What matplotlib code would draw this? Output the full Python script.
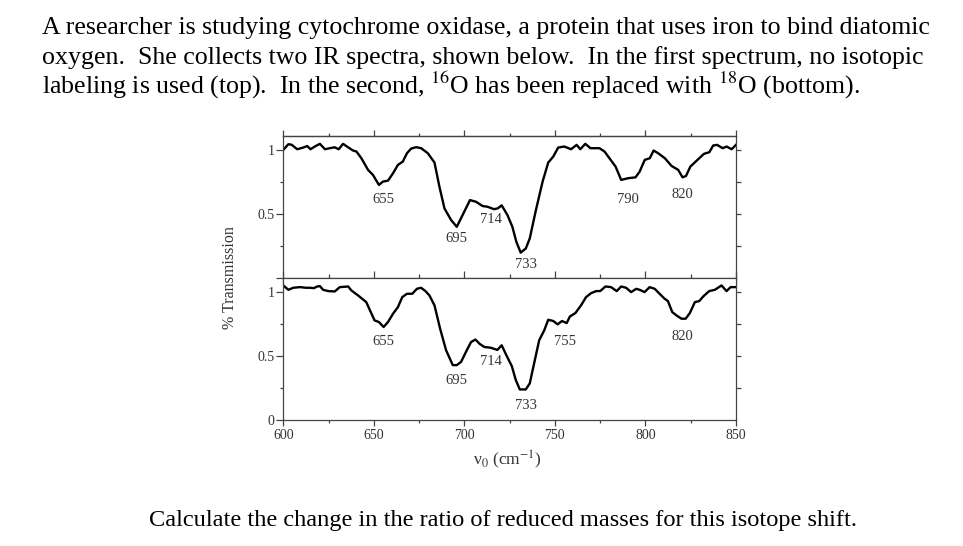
import matplotlib
matplotlib.use('Agg')
from matplotlib import pyplot as plt
from matplotlib.ticker import MultipleLocator, FixedLocator

plt.rcParams['font.family'] = ['Liberation Serif', 'DejaVu Serif']
plt.rcParams['mathtext.fontset'] = 'stix'

# spectre sans marquage isotopique (haut)
wn_top = [600, 602.8, 604.6, 607.7, 611, 613.2, 615, 617.4, 620.2, 623,
          625.7, 628.4, 630.6, 633, 635.8, 638.5, 640.4, 643.1, 646.8, 649.5,
          652.8, 655, 657.8, 660.6, 663.3, 666, 668.3, 670.6, 673.4, 676.1,
          679.8, 683.5, 686.2, 689, 692.7, 695.8, 699, 703.1, 706.4, 710,
          712.8, 716.4, 718.5, 720.6, 723.8, 726.5, 728.7, 731.1, 733.9, 736.1,
          739.5, 743.2, 746.3, 749.1, 751.8, 755.2, 758.9, 762, 764, 766.8,
          769.6, 774.6, 777.4, 780.1, 783.5, 786.6, 790.3, 794.5, 796.8, 799.6,
          802.4, 804.5, 807, 810.7, 814.4, 818.1, 820.5, 822.4, 824.8, 829.1,
          832.3, 835.3, 837.4, 839.6, 842.6, 844.8, 847.6, 850]
tr_top = [1.0, 1.044, 1.04, 1.005, 1.018, 1.03, 1.005, 1.026, 1.047, 1.005,
          1.013, 1.02, 1.005, 1.047, 1.02, 0.995, 0.987, 0.935, 0.844, 0.805,
          0.727, 0.753, 0.76, 0.818, 0.883, 0.909, 0.974, 1.01, 1.021, 1.013,
          0.974, 0.901, 0.714, 0.544, 0.453, 0.401, 0.492, 0.609, 0.596, 0.563,
          0.557, 0.538, 0.545, 0.568, 0.492, 0.401, 0.284, 0.2, 0.232, 0.31,
          0.531, 0.753, 0.901, 0.948, 1.018, 1.026, 1.005, 1.039, 1.005, 1.047,
          1.013, 1.013, 0.987, 0.935, 0.87, 0.766, 0.779, 0.786, 0.831, 0.922,
          0.935, 0.995, 0.974, 0.935, 0.875, 0.844, 0.786, 0.797, 0.87, 0.927,
          0.969, 0.982, 1.034, 1.039, 1.013, 1.026, 1.005, 1.039]

# spectre 18O (bas)
wn_bot = [600, 602.8, 605.5, 609.2, 612.5, 614.7, 616.9, 618.7, 620.2, 622,
          624.8, 628.4, 631.2, 635.8, 637.6, 641.3, 645.8, 650.4, 652.8, 655.4,
          657.8, 660.6, 663.3, 665.7, 668.3, 671.2, 673.8, 676.1, 678.5, 680.7,
          683.5, 686.6, 689.9, 693.6, 695.8, 698.2, 701.3, 703.7, 706.1, 708.3,
          711, 714.6, 718.2, 720.6, 723.2, 726.2, 728.4, 730.6, 733.9, 736.1,
          738.5, 741.3, 744.1, 746.3, 749.1, 751.5, 753.9, 756.5, 758.3, 761.3,
          764.4, 767.2, 770, 772.8, 775, 777.9, 781, 784.1, 786.6, 789.3,
          792.1, 794.9, 796.8, 799.5, 802.3, 805.1, 807.8, 810.6, 812.4, 814.8,
          817.1, 819.9, 822.2, 824.5, 827.3, 829.7, 831.9, 835.2, 838.3, 842,
          844.8, 847, 850]
tr_bot = [1.052, 1.018, 1.034, 1.039, 1.034, 1.034, 1.031, 1.044, 1.047, 1.018,
          1.008, 1.005, 1.039, 1.044, 1.013, 0.974, 0.922, 0.779, 0.766, 0.727,
          0.766, 0.831, 0.883, 0.961, 0.987, 0.987, 1.026, 1.034, 1.008, 0.974,
          0.896, 0.714, 0.545, 0.429, 0.429, 0.455, 0.545, 0.61, 0.629, 0.597,
          0.571, 0.565, 0.548, 0.584, 0.506, 0.421, 0.312, 0.239, 0.239, 0.286,
          0.442, 0.623, 0.701, 0.784, 0.774, 0.748, 0.774, 0.758, 0.81, 0.836,
          0.896, 0.961, 0.992, 1.008, 1.008, 1.044, 1.039, 1.008, 1.044, 1.034,
          1.0, 1.026, 1.018, 1.0, 1.039, 1.026, 0.987, 0.948, 0.93, 0.844,
          0.818, 0.792, 0.792, 0.836, 0.922, 0.93, 0.966, 1.008, 1.018, 1.052,
          1.008, 1.039, 1.039]

# etiquettes des pics
peaks_top = ['655', '695', '714', '733', '790', '820']
peaks_bot = ['655', '695', '714', '733', '755', '820']
peak_x_top = [655.5, 695.5, 714.5, 734, 790.5, 820.5]
peak_y_top = [0.61, 0.31, 0.46, 0.11, 0.61, 0.655]
peak_x_bot = [655.5, 695.5, 714.5, 734, 755.5, 820.5]
peak_y_bot = [0.61, 0.31, 0.46, 0.11, 0.61, 0.655]

title_lines = [
    'A researcher is studying cytochrome oxidase, a protein that uses iron to bind diatomic',
    'oxygen.  She collects two IR spectra, shown below.  In the first spectrum, no isotopic',
    'labeling is used (top).  In the second, $^{16}$O has been replaced with $^{18}$O (bottom).',
]
question = 'Calculate the change in the ratio of reduced masses for this isotope shift.'

axc = '#444444'
txc = '#333333'

fig = plt.figure(figsize=(9.63, 5.46), dpi=100)
W, H = 963.0, 546.0
ax1 = fig.add_axes([283.3 / W, 1 - 278.3 / H, 452.7 / W, 142.3 / H])
ax2 = fig.add_axes([283.3 / W, 1 - 420 / H, 452.7 / W, 141.7 / H])


def style(ax, bottom_panel):
    ax.set_xlim(600, 850)
    ax.set_ylim(0, 1.108)
    for s in ax.spines.values():
        s.set_color(axc)
        s.set_linewidth(0.9)
    ax.xaxis.set_major_locator(MultipleLocator(50))
    ax.xaxis.set_minor_locator(MultipleLocator(25))
    ax.yaxis.set_major_locator(FixedLocator([0, 0.5, 1]))
    ax.yaxis.set_minor_locator(FixedLocator([0.25, 0.75]))
    ax.set_yticklabels(['0' if bottom_panel else '', '0.5', '1'])
    ax.tick_params(axis='y', which='both', direction='out', colors=axc,
                   labelcolor=txc, labelsize=10, width=0.9, pad=1.5)
    ax.tick_params(axis='y', which='major', length=4.8)
    ax.tick_params(axis='y', which='minor', length=2.4)
    if bottom_panel:
        ax.tick_params(axis='x', which='both', direction='out', colors=axc,
                       labelcolor=txc, labelsize=10, width=0.9, top=False, pad=2)
        ax.tick_params(axis='x', which='major', length=4.3)
        ax.tick_params(axis='x', which='minor', length=2.2)
    else:
        ax.tick_params(axis='x', which='both', direction='inout', colors=axc,
                       width=0.9, labelbottom=False, top=False)
        ax.tick_params(axis='x', which='major', length=9.4)
        ax.tick_params(axis='x', which='minor', length=6.2)
        sec = ax.secondary_xaxis('top')
        sec.xaxis.set_major_locator(MultipleLocator(50))
        sec.xaxis.set_minor_locator(MultipleLocator(25))
        sec.spines['top'].set_color(axc)
        sec.spines['top'].set_linewidth(0.9)
        sec.tick_params(axis='x', which='both', direction='out', colors=axc,
                        width=0.9, labeltop=False)
        sec.tick_params(axis='x', which='major', length=4.3)
        sec.tick_params(axis='x', which='minor', length=2.0)
    # graduations a droite
    rt = ax.twinx()
    rt.set_ylim(ax.get_ylim())
    rt.yaxis.set_major_locator(FixedLocator([0.25, 0.5, 0.75, 1]))
    rt.tick_params(axis='y', direction='out', length=3.5, width=0.9,
                   colors=axc, labelright=False)
    for s in rt.spines.values():
        s.set_visible(False)


style(ax1, False)
style(ax2, True)

ax1.plot(wn_top, tr_top, color='black', lw=1.7)
ax2.plot(wn_bot, tr_bot, color='black', lw=1.7)

for lab, x, y in zip(peaks_top, peak_x_top, peak_y_top):
    ax1.text(x, y, lab, ha='center', va='center', fontsize=10.5, color=txc)
for lab, x, y in zip(peaks_bot, peak_x_bot, peak_y_bot):
    ax2.text(x, y, lab, ha='center', va='center', fontsize=10.5, color=txc)

fig.text(230 / W, 1 - 278 / H, '% Transmission', rotation=90, ha='center',
         va='center', fontsize=11.5, color=txc)
fig.text(507 / W, 1 - 465 / H, 'ν$_0$ (cm$^{-1}$)', ha='center',
         va='baseline', fontsize=12.5, color=txc)

for i, line in enumerate(title_lines):
    fig.text(42 / W, 1 - (34.3 + 29.5 * i) / H, line, ha='left',
             va='baseline', fontsize=18.6, color='black')

fig.text(503 / W, 1 - 526 / H, question, ha='center', va='baseline',
         fontsize=17.6, color='black')

fig.savefig('out.png', dpi=100)
